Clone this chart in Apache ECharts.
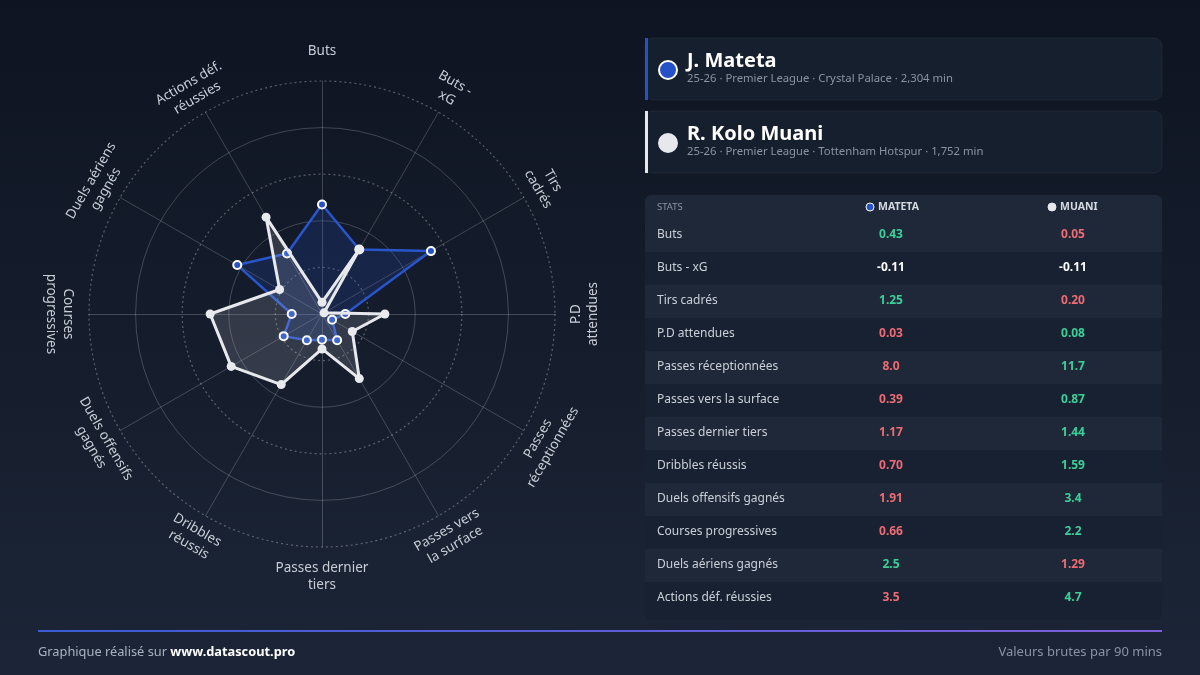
<!DOCTYPE html>
<html>
<head>
<meta charset="utf-8">
<title>Mateta vs Kolo Muani</title>
<script src="https://cdn.jsdelivr.net/npm/echarts@6/dist/echarts.min.js"></script>
<style>
html, body { margin: 0; padding: 0; background: #111827; }
#chart { width: 1200px; height: 675px; }
</style>
</head>
<body>
<div id="chart"></div>
<script>
// stats, in clockwise order from the top of the radar
var statNames = ['Buts', 'Buts - xG', 'Tirs cadrés', 'P.D attendues', 'Passes réceptionnées',
    'Passes vers la surface', 'Passes dernier tiers', 'Dribbles réussis', 'Duels offensifs gagnés',
    'Courses progressives', 'Duels aériens gagnés', 'Actions déf. réussies'];
var axisNames = ['Buts', 'Buts -\nxG', 'Tirs\ncadrés', 'P.D\nattendues', 'Passes\nréceptionnées',
    'Passes vers\nla surface', 'Passes dernier\ntiers', 'Dribbles\nréussis', 'Duels offensifs\ngagnés',
    'Courses\nprogressives', 'Duels aériens\ngagnés', 'Actions déf.\nréussies'];

// raw values per 90 (table)
var matetaRaw = ['0.43', '-0.11', '1.25', '0.03', '8.0', '0.39', '1.17', '0.70', '1.91', '0.66', '2.5', '3.5'];
var muaniRaw = ['0.05', '-0.11', '0.20', '0.08', '11.7', '0.87', '1.44', '1.59', '3.4', '2.2', '1.29', '4.7'];

// plotted radar scores (0-100)
var matetaScore = [47, 32, 54, 10, 5, 13, 11, 13, 19, 13, 42, 30];
var muaniScore = [5, 32, 1, 27, 15, 32, 15, 35, 45, 48, 21, 48];

var players = [
    { name: 'J. Mateta', info: '25-26 · Premier League · Crystal Palace · 2,304 min', short: 'MATETA', color: '#2552c6' },
    { name: 'R. Kolo Muani', info: '25-26 · Premier League · Tottenham Hotspur · 1,752 min', short: 'MUANI', color: '#e6e8ec' }
];

var cx = 322, cy = 314, R = 233;
var FONT = '"Noto Sans", "Open Sans", sans-serif';
var GREEN = '#3ccf97', RED = '#ee6b73';

var dom = document.getElementById('chart');
var myChart = echarts.init(dom);

// echarts lays indicators out counter-clockwise, so reverse after the first
var order = [0];
for (var k = statNames.length - 1; k > 0; k--) order.push(k);

var indicator = order.map(function (i) { return { name: statNames[i], min: 0, max: 100 }; });
var pick = function (arr) { return order.map(function (i) { return arr[i]; }); };

var graphics = [];

// rotated axis names
axisNames.forEach(function (txt, i) {
    var theta = i * 30;
    var rad = theta * Math.PI / 180;
    var rot = (theta >= 90 && theta <= 270) ? theta - 180 : (theta > 270 ? theta - 360 : theta);
    var lr = (theta % 90 === 0) ? 263 : 258;
    graphics.push({
        type: 'text',
        x: cx + lr * Math.sin(rad),
        y: cy - lr * Math.cos(rad),
        rotation: -rot * Math.PI / 180,
        style: {
            text: txt, fill: '#c8cdd6', font: '13.5px ' + FONT,
            align: 'center', verticalAlign: 'middle', lineHeight: 17
        }
    });
});

// player cards
players.forEach(function (p, i) {
    var top = 38 + i * 73;
    graphics.push({
        type: 'rect', shape: { x: 645, y: top, width: 517, height: 62, r: 8 },
        style: { fill: '#161f2e', stroke: 'rgba(255,255,255,0.05)', lineWidth: 1 }
    });
    graphics.push({
        type: 'rect', shape: { x: 645, y: top, width: 3, height: 62 },
        style: { fill: p.color }
    });
    graphics.push({
        type: 'circle', shape: { cx: 668, cy: top + 32, r: 9 },
        style: { fill: p.color, stroke: i === 0 ? '#ffffff' : p.color, lineWidth: 2 }
    });
    graphics.push({
        type: 'text', x: 687, y: top + 23,
        style: { text: p.name, fill: '#ffffff', font: 'bold 20px ' + FONT, verticalAlign: 'middle' }
    });
    graphics.push({
        type: 'text', x: 687, y: top + 41,
        style: { text: p.info, fill: '#8a93a4', font: '11.3px ' + FONT, verticalAlign: 'middle' }
    });
});

// stats table
var colX = [891, 1073];
graphics.push({
    type: 'rect', shape: { x: 645, y: 195, width: 517, height: 425, r: 6 },
    style: { fill: '#182131' }
});
graphics.push({
    type: 'rect', shape: { x: 645, y: 195, width: 517, height: 24, r: [6, 6, 0, 0] },
    style: { fill: '#1f2839' }
});
graphics.push({
    type: 'text', x: 657, y: 207,
    style: { text: 'STATS', fill: '#8a93a4', font: '9.5px ' + FONT, verticalAlign: 'middle' }
});
players.forEach(function (p, i) {
    graphics.push({
        type: 'circle', shape: { cx: colX[i] - 21, cy: 207, r: 4 },
        style: { fill: p.color, stroke: i === 0 ? '#ffffff' : p.color, lineWidth: 1 }
    });
    graphics.push({
        type: 'text', x: colX[i] - 13, y: 207,
        style: { text: p.short, fill: '#d5d9e0', font: 'bold 10.5px ' + FONT, verticalAlign: 'middle' }
    });
});

statNames.forEach(function (s, i) {
    var y0 = 219 + i * 33;
    if (i % 2 === 0) {
        graphics.push({
            type: 'rect', shape: { x: 645, y: y0, width: 517, height: 33 },
            style: { fill: '#1f2839' }
        });
    }
    graphics.push({
        type: 'text', x: 657, y: y0 + 16,
        style: { text: s, fill: '#cbd0d8', font: '12px ' + FONT, verticalAlign: 'middle' }
    });
    var a = parseFloat(matetaRaw[i]), b = parseFloat(muaniRaw[i]);
    var ca = a > b ? GREEN : (a < b ? RED : '#ffffff');
    var cb = b > a ? GREEN : (b < a ? RED : '#ffffff');
    [matetaRaw[i], muaniRaw[i]].forEach(function (v, j) {
        graphics.push({
            type: 'text', x: colX[j], y: y0 + 16,
            style: { text: v, fill: j === 0 ? ca : cb, font: 'bold 12px ' + FONT, align: 'center', verticalAlign: 'middle' }
        });
    });
});

// footer
graphics.push({
    type: 'rect', shape: { x: 38, y: 630, width: 1124, height: 2 },
    style: {
        fill: new echarts.graphic.LinearGradient(0, 0, 1, 0, [
            { offset: 0, color: '#3a5bd6' }, { offset: 1, color: '#7d5fd8' }
        ])
    }
});
graphics.push({
    type: 'text', x: 38, y: 652,
    style: {
        text: '{a|Graphique réalisé sur }{b|www.datascout.pro}', verticalAlign: 'middle',
        rich: {
            a: { fill: '#aab2c0', font: '12.8px ' + FONT },
            b: { fill: '#ffffff', font: 'bold 12.8px ' + FONT }
        }
    }
});
graphics.push({
    type: 'text', x: 1162, y: 652,
    style: { text: 'Valeurs brutes par 90 mins', fill: '#8a93a4', font: '13px ' + FONT, align: 'right', verticalAlign: 'middle' }
});

var option = {
    backgroundColor: new echarts.graphic.LinearGradient(0, 0, 0, 1, [
        { offset: 0, color: '#0e1421' }, { offset: 1, color: '#1c2537' }
    ]),
    animation: false,
    radar: [
        {
            center: [cx, cy], radius: R, shape: 'circle', splitNumber: 5, startAngle: 90,
            indicator: indicator,
            axisName: { show: false },
            axisLine: { lineStyle: { color: 'rgba(255,255,255,0.2)', width: 1 } },
            splitLine: { lineStyle: { color: ['transparent', 'rgba(255,255,255,0.3)'], type: [2, 3], width: 1.2 } },
            splitArea: { show: false }
        },
        {
            center: [cx, cy], radius: R, shape: 'circle', splitNumber: 5, startAngle: 90,
            indicator: indicator,
            axisName: { show: false },
            axisLine: { show: false },
            splitLine: { lineStyle: { color: ['rgba(255,255,255,0.2)', 'transparent'], width: 1 } },
            splitArea: { show: false }
        }
    ],
    series: [
        {
            name: 'Mateta', type: 'radar', radarIndex: 0, z: 3,
            symbol: 'circle', symbolSize: 8,
            lineStyle: { color: '#2a56cc', width: 2.5 },
            areaStyle: { color: 'rgba(37,82,198,0.28)' },
            itemStyle: { color: '#2552c6', borderColor: '#ffffff', borderWidth: 2 },
            data: [{ value: pick(matetaScore), name: 'J. Mateta' }]
        },
        {
            name: 'Muani', type: 'radar', radarIndex: 0, z: 4,
            symbol: 'circle', symbolSize: 9,
            lineStyle: { color: '#e8eaee', width: 3 },
            areaStyle: { color: 'rgba(220,224,232,0.22)' },
            itemStyle: { color: '#e8eaee', borderWidth: 0 },
            data: [{ value: pick(muaniScore), name: 'R. Kolo Muani' }]
        }
    ],
    graphic: graphics
};

myChart.setOption(option, true);
</script>
</body>
</html>
